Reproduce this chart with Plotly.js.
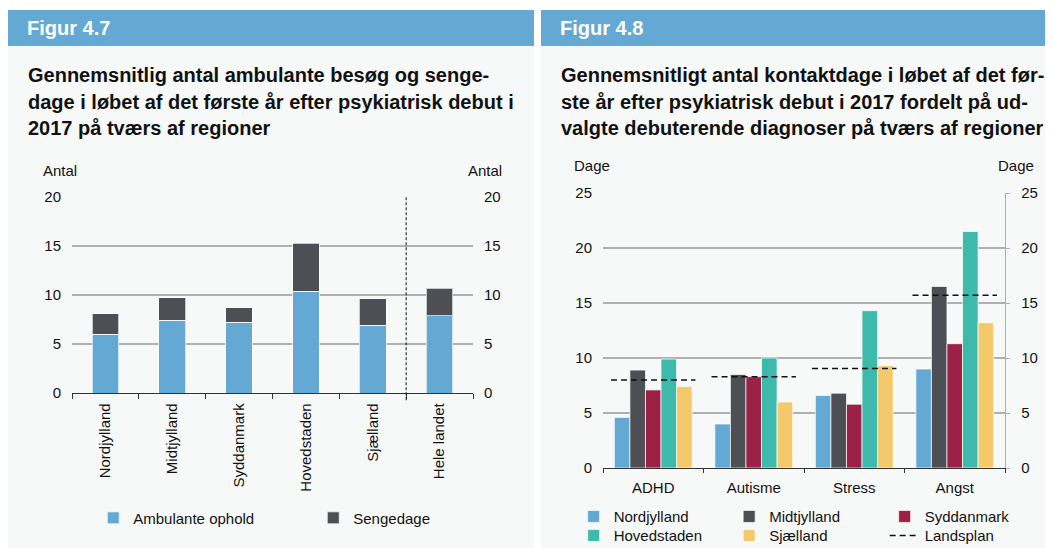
<!DOCTYPE html>
<html>
<head>
<meta charset="utf-8">
<script src="https://cdn.plot.ly/plotly-3.0.1.min.js"></script>
<style>
  body { margin: 0; width: 1053px; height: 548px; background: #fff; position: relative; overflow: hidden;
         font-family: "Liberation Sans", Arial, sans-serif; }
  .panel { position: absolute; top: 10px; height: 538px; background: #f7f9f9; }
  .head { height: 36px; background: #63a9d4; color: #fff; font-weight: bold; font-size: 20px;
          line-height: 36px; padding-left: 19px; }
  .title { position: absolute; left: 20px; top: 52px; font-weight: bold; font-size: 20px;
           line-height: 26.7px; color: #111; white-space: nowrap; }
  .chart { position: absolute; top: 150px; height: 398px; }
</style>
</head>
<body>
<div class="panel" style="left:8px;width:526px">
  <div class="head">Figur 4.7</div>
  <div class="title">Gennemsnitlig antal ambulante besøg og senge-<br>dage i løbet af det første år efter psykiatrisk debut i<br>2017 på tværs af regioner</div>
</div>
<div class="panel" style="left:541px;width:504px">
  <div class="head">Figur 4.8</div>
  <div class="title">Gennemsnitligt antal kontaktdage i løbet af det før-<br>ste år efter psykiatrisk debut i 2017 fordelt på ud-<br>valgte debuterende diagnoser på tværs af regioner</div>
</div>
<div id="fig47" class="chart" style="left:8px;width:526px"></div>
<div id="fig48" class="chart" style="left:520px;width:533px"></div>

<script>
// Figur 4.7 - regioner
const regions = ['Nordjylland', 'Midtjylland', 'Syddanmark', 'Hovedstaden', 'Sjælland', 'Hele landet'];
const ambulante = [6.0, 7.4, 7.2, 10.4, 6.9, 7.9];
const sengedage = [2.1, 2.3, 1.5, 4.9, 2.7, 2.8];

// Figur 4.8 - diagnoser
const diagnoses = ['ADHD', 'Autisme', 'Stress', 'Angst'];
const nordjylland = [4.6, 4.0, 6.6, 9.0];
const midtjylland = [8.9, 8.5, 6.8, 16.5];
const syddanmark = [7.1, 8.3, 5.8, 11.3];
const hovedstaden = [9.9, 10.0, 14.3, 21.5];
const sjaelland = [7.4, 6.0, 9.3, 13.2];
const landsplan = [8.0, 8.3, 9.05, 15.7];

const FONT = 'Liberation Sans, Arial, sans-serif';
const colors = {
    blue: '#63a9d4',
    dark: '#4d4f54',
    red: '#9b2246',
    teal: '#3dbaac',
    yellow: '#f3c96b'
};
const gridColor = '#b0b0b0';
const barLine = { color: 'rgba(255,255,255,0.7)', width: 1 };

// tom trace saa hoejre akse (y2) bliver tegnet
function rightAxisDummy(xcat) {
    return { type: 'scatter', mode: 'none', x: [xcat], y: [null], yaxis: 'y2',
             showlegend: false, hoverinfo: 'skip' };
}

// ---------- Figur 4.7 ----------
const data47 = [
    {
        type: 'bar', x: regions, y: ambulante, name: 'Ambulante ophold',
        marker: { color: colors.blue, line: barLine }, legendwidth: 175
    },
    {
        type: 'bar', x: regions, y: sengedage, name: 'Sengedage',
        marker: { color: colors.dark, line: barLine }
    },
    rightAxisDummy(regions[0])
];

const layout47 = {
    width: 526, height: 398,
    margin: { l: 63.7, r: 60.7, t: 46.7, b: 154.7, autoexpand: false },
    paper_bgcolor: 'rgba(0,0,0,0)', plot_bgcolor: 'rgba(0,0,0,0)',
    font: { family: FONT, size: 15, color: '#111' },
    barmode: 'stack', bargap: 0.6,
    showlegend: true,
    legend: {
        orientation: 'h', traceorder: 'normal', x: 0.053, xanchor: 'left', y: -0.554, yanchor: 'top',
        font: { size: 15 }, bgcolor: 'rgba(0,0,0,0)'
    },
    xaxis: {
        type: 'category', tickson: 'boundaries', ticks: 'outside', ticklen: 5,
        tickcolor: '#333', showline: true, linecolor: '#333', linewidth: 1.3,
        tickangle: -90, showgrid: false, zeroline: false, ticklabelstandoff: 3
    },
    yaxis: {
        range: [0, 20], dtick: 5, showgrid: true, gridcolor: gridColor, gridwidth: 1.2,
        zeroline: false, showline: false, ticks: '', ticklabelstandoff: 10
    },
    yaxis2: {
        overlaying: 'y', side: 'right', range: [0, 20], dtick: 5, showgrid: false,
        zeroline: false, showline: false, ticks: '', ticklabelstandoff: 10
    },
    shapes: [{
        type: 'line', xref: 'x', yref: 'paper', x0: 4.5, x1: 4.5, y0: -0.037, y1: 1,
        line: { color: '#111', width: 1, dash: '3px,2px' }
    }],
    annotations: [
        { text: 'Antal', xref: 'paper', yref: 'paper', x: -0.030, y: 1.136, xanchor: 'center', yanchor: 'middle',
          showarrow: false, font: { size: 15 } },
        { text: 'Antal', xref: 'paper', yref: 'paper', x: 1.030, y: 1.136, xanchor: 'center', yanchor: 'middle',
          showarrow: false, font: { size: 15 } }
    ]
};

// ---------- Figur 4.8 ----------
// forklaring i to raekker: de tre foerste i legend, resten i legend2
const regionSeries = [
    ['Nordjylland', nordjylland, colors.blue, 'legend'],
    ['Midtjylland', midtjylland, colors.dark, 'legend'],
    ['Syddanmark', syddanmark, colors.red, 'legend'],
    ['Hovedstaden', hovedstaden, colors.teal, 'legend2'],
    ['Sjælland', sjaelland, colors.yellow, 'legend2']
];
const data48 = regionSeries.map(([name, values, color, leg]) => ({
    type: 'bar', x: diagnoses, y: values, name: name, legend: leg,
    marker: { color: color, line: barLine }
}));

// landsplan: kort stiplet linje over hver diagnosegruppe
const lpX = [], lpY = [];
landsplan.forEach((v, i) => {
    lpX.push(i - 0.42, i + 0.42, null);
    lpY.push(v, v, null);
});
data48.push({
    type: 'scatter', mode: 'lines', x: lpX, y: lpY, xaxis: 'x2', name: 'Landsplan', legend: 'legend2',
    line: { color: '#111', width: 1.5, dash: '6px,4px' }, connectgaps: false
});
data48.push(rightAxisDummy(diagnoses[0]));

const legendBase = {
    orientation: 'h', traceorder: 'normal', x: -0.073, xanchor: 'left', yanchor: 'top',
    font: { size: 15 }, entrywidth: 110.5, bgcolor: 'rgba(0,0,0,0)'
};

const layout48 = {
    width: 533, height: 398,
    margin: { l: 83.3, r: 48, t: 43.3, b: 79.7, autoexpand: false },
    paper_bgcolor: 'rgba(0,0,0,0)', plot_bgcolor: 'rgba(0,0,0,0)',
    font: { family: FONT, size: 15, color: '#111' },
    barmode: 'group', bargap: 0.226, bargroupgap: 0,
    showlegend: true,
    legend: Object.assign({}, legendBase, { y: -0.117 }),
    legend2: Object.assign({}, legendBase, { y: -0.186 }),
    xaxis: {
        type: 'category', tickson: 'boundaries', ticks: 'outside', ticklen: 4,
        tickcolor: '#333', showline: true, linecolor: '#333', linewidth: 1.3,
        showgrid: false, zeroline: false, ticklabelstandoff: 6
    },
    xaxis2: { overlaying: 'x', range: [-0.5, 3.5], visible: false },
    yaxis: {
        range: [0, 25], dtick: 5, showgrid: true, gridcolor: gridColor, gridwidth: 1.2,
        zeroline: false, showline: false, ticks: '', ticklabelstandoff: 10
    },
    yaxis2: {
        overlaying: 'y', side: 'right', range: [0, 25], dtick: 5, showgrid: false,
        zeroline: false, showline: true, linecolor: gridColor, linewidth: 1.2,
        ticks: 'outside', ticklen: 4, tickcolor: gridColor, ticklabelstandoff: 8
    },
    annotations: [
        { text: 'Dage', xref: 'paper', yref: 'paper', x: -0.027, y: 1.099, xanchor: 'center', yanchor: 'middle',
          showarrow: false, font: { size: 15 } },
        { text: 'Dage', xref: 'paper', yref: 'paper', x: 1.027, y: 1.099, xanchor: 'center', yanchor: 'middle',
          showarrow: false, font: { size: 15 } }
    ]
};

const config = { staticPlot: true, displayModeBar: false };
Plotly.newPlot('fig47', data47, layout47, config);
Plotly.newPlot('fig48', data48, layout48, config);
</script>
</body>
</html>
